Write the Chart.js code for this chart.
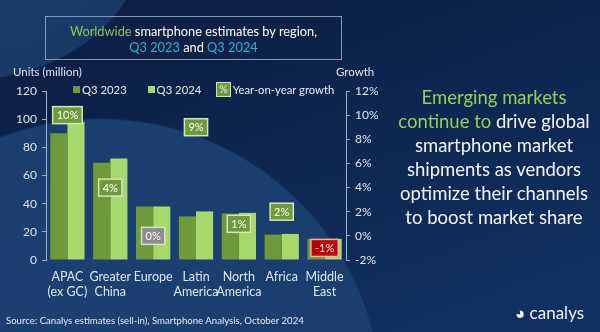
<!DOCTYPE html>
<html>
<head>
<meta charset="utf-8">
<script src="https://cdn.jsdelivr.net/npm/chart.js@4"></script>
<style>
  html, body { margin: 0; padding: 0; }
  body {
    width: 600px; height: 332px; overflow: hidden; position: relative;
    font-family: Lato, "Open Sans", sans-serif; color: #fff;
    background:
      radial-gradient(circle at 100px 400px, #1b4072 0, #1a3e6e 280px, rgba(0,0,0,0) 282px),
      radial-gradient(ellipse 260px 200px at -40px -60px, #1e3e6e 0, #1a3865 70%, rgba(0,0,0,0) 71%),
      linear-gradient(160deg, #0b1c42 0%, #0e2650 45%, #113163 100%);
  }
  #c { position: absolute; left: 0; top: 0; }
  .title {
    position: absolute; left: 45px; top: 16px; width: 297px; height: 44px;
    border: 1px solid #8597b3; text-align: center; font-size: 12.8px; line-height: 16px;
    padding-top: 6px; box-sizing: border-box;
  }
  .g { color: #8fc25a; }
  .t { color: #2fb2cc; }
  .lab { position: absolute; font-size: 11.5px; color: #dfe5ee; }
  .legend { position: absolute; top: 81px; left: 73px; font-size: 11.3px; color: #e6ebf2; white-space: nowrap; }
  .legend span { display: inline-block; vertical-align: middle; }
  .sq { width: 7px; height: 7px; margin-right: 2px; }
  .pct { background: #6e9a3a; border: 1px solid #cfe3b3; font-size: 10.5px; padding: 0 2px; line-height: 13px; margin-right: 2px; }
  .side {
    position: absolute; left: 383px; top: 85px; width: 222px; text-align: center;
    font-size: 18.5px; line-height: 24px; color: #f3f5f8;
  }
  .side .g { color: #93d158; }
  .src { position: absolute; left: 6px; top: 315px; font-size: 9.6px; color: #e6ebf2; }
  .logo { position: absolute; left: 515px; top: 302px; font-size: 17px; color: #f0f3f7; }
</style>
</head>
<body>
<canvas id="c" width="600" height="332"></canvas>
<div class="title"><span class="g">Worldwide</span> smartphone estimates by region,<br><span class="t">Q3 2023</span> and <span class="t">Q3 2024</span></div>
<div class="lab" style="left:13px;top:65px;">Units (million)</div>
<div class="lab" style="left:336px;top:65px;">Growth</div>
<div class="legend">
  <span class="sq" style="background:#6e9a3a"></span><span>Q3 2023</span>
  <span class="sq" style="background:#a6d86b;margin-left:18px"></span><span>Q3 2024</span>
  <span class="pct" style="margin-left:12px">%</span><span>Year-on-year growth</span>
</div>
<div class="side"><span class="g">Emerging markets<br>continue to</span> drive global<br>smartphone market<br>shipments as vendors<br>optimize their channels<br>to boost market share</div>
<div class="src">Source: Canalys estimates (sell-in), Smartphone Analysis, October 2024</div>
<div class="logo">&#9685; canalys</div>
<script>
const regions = [["APAC", "(ex GC)"], ["Greater", "China"], ["Europe"], ["Latin", "America"], ["North", "America"], ["Africa"], ["Middle", "East"]];
const q3_2023 = [90, 69, 38, 31, 33, 18, 15];
const q3_2024 = [98, 72, 38, 34.5, 33.5, 18.5, 15];
const growth = [10, 4, 0, 9, 1, 2, -1];
const growthLabels = ["10%", "4%", "0%", "9%", "1%", "2%", "-1%"];
const growthColors = ["#6e9a3a", "#6e9a3a", "#8c8c8c", "#6e9a3a", "#6e9a3a", "#6e9a3a", "#c00000"];

const growthBoxes = {
  id: "growthBoxes",
  afterDatasetsDraw(chart) {
    const ctx = chart.ctx;
    const meta = chart.getDatasetMeta(2);
    meta.data.forEach((pt, i) => {
      const label = growthLabels[i];
      ctx.save();
      ctx.font = "11px Lato, sans-serif";
      const w = ctx.measureText(label).width + 8;
      const h = 17;
      ctx.fillStyle = growthColors[i];
      ctx.fillRect(pt.x - w / 2, pt.y - h / 2, w, h);
      ctx.strokeStyle = i === 6 ? "#e8b0b0" : "#d4e4c0";
      ctx.lineWidth = 1.5;
      ctx.strokeRect(pt.x - w / 2, pt.y - h / 2, w, h);
      ctx.fillStyle = "#ffffff";
      ctx.textAlign = "center";
      ctx.textBaseline = "middle";
      ctx.fillText(label, pt.x, pt.y + 0.5);
      ctx.restore();
    });
  }
};

new Chart(document.getElementById("c"), {
  type: "bar",
  data: {
    labels: regions,
    datasets: [
      { label: "Q3 2023", data: q3_2023, backgroundColor: "#6e9a3a", yAxisID: "y", categoryPercentage: 0.8, barPercentage: 1.0 },
      { label: "Q3 2024", data: q3_2024, backgroundColor: "#a6d86b", yAxisID: "y", categoryPercentage: 0.8, barPercentage: 1.0 },
      { type: "line", label: "Year-on-year growth", data: growth, yAxisID: "y2", showLine: false, pointRadius: 0 }
    ]
  },
  options: {
    responsive: false,
    animation: false,
    layout: { padding: { top: 91, left: 0, right: 0, bottom: 0 } },
    plugins: { legend: { display: false }, tooltip: { enabled: false } },
    scales: {
      x: {
        grid: { display: false },
        border: { display: false },
        ticks: { color: "#dfe5ee", font: { family: "Lato", size: 12.5, lineHeight: 1.15 }, padding: 2, maxRotation: 0, autoSkip: false },
        afterFit(s) { s.height = 72; }
      },
      y: {
        position: "left",
        min: 0, max: 120,
        ticks: { stepSize: 20, color: "#dfe5ee", font: { family: "Lato", size: 12 }, padding: 5 },
        grid: { drawOnChartArea: false, drawTicks: true, tickLength: 4, color: "#9fb0c8" },
        border: { display: true, color: "#9fb0c8", width: 1 },
        afterFit(s) { s.width = 46; }
      },
      y2: {
        position: "right",
        min: -2, max: 12,
        ticks: { stepSize: 2, color: "#dfe5ee", font: { family: "Lato", size: 12 }, padding: 5, callback: v => v + "%" },
        grid: { drawOnChartArea: false, drawTicks: true, tickLength: 4, color: "#9fb0c8" },
        border: { display: true, color: "#9fb0c8", width: 1 },
        afterFit(s) { s.width = 254; }
      }
    }
  },
  plugins: [growthBoxes]
});
</script>
</body>
</html>
